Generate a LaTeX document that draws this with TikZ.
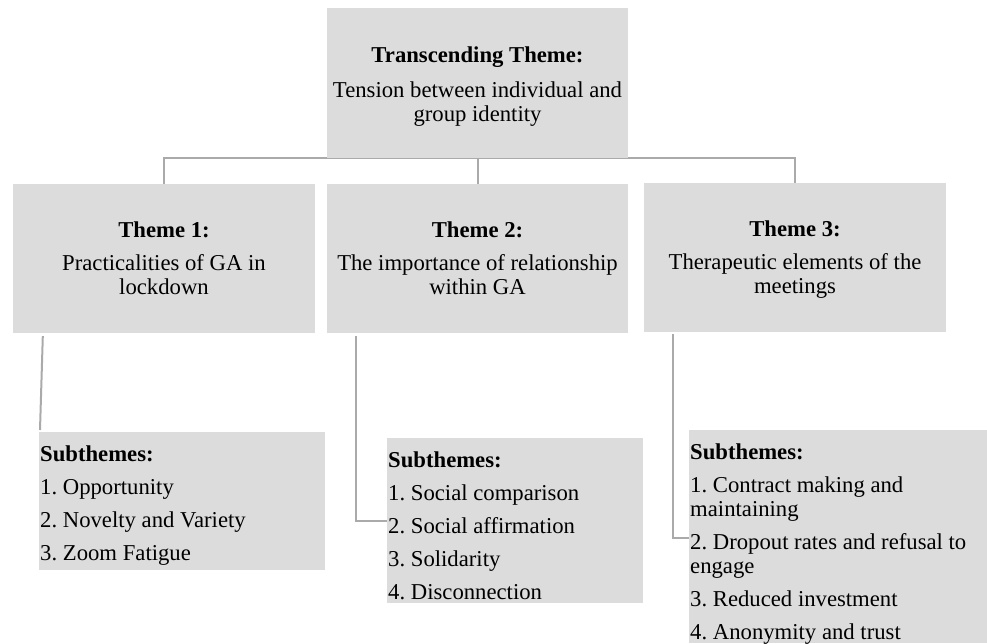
\documentclass[tikz,border=0pt]{standalone}
\usepackage{fontspec}
\setmainfont{Liberation Serif}
\usetikzlibrary{backgrounds}
\definecolor{boxgray}{RGB}{220,220,220}
\definecolor{linegray}{RGB}{170,170,170}
\frenchspacing
\newcommand{\sublist}[3]{\parbox[t][#2][t]{#1}{\raggedright\setlength{\parskip}{9pt}#3}}
\tikzset{
  txt/.style={font=\fontsize{22.7}{24}\selectfont},
  theme/.style={txt, fill=boxgray, minimum width=302pt, minimum height=149pt, inner sep=0pt, align=center},
  subtheme/.style={txt, fill=boxgray, anchor=north west, inner xsep=1pt, inner ysep=13.5pt},
  link/.style={draw=linegray, line width=2pt}
}
\begin{document}
\begin{tikzpicture}[x=1pt, y=-1pt]
\useasboundingbox (0,0) rectangle (987,643);
% themes
\node[theme, minimum width=301pt, minimum height=150pt] (top) at (477.5,83) {\rule{0pt}{23pt}\textbf{Transcending Theme:}\\[11pt]Tension between individual and\\group identity};
\node[theme] (theme1) at (164,258.5) {\textbf{Theme 1:}\\[9pt]Practicalities of GA in\\lockdown};
\node[theme, minimum width=301pt] (theme2) at (477.5,258.5) {\textbf{Theme 2:}\\[9pt]The importance of relationship\\within GA};
\node[theme] (theme3) at (795,257.5) {\rule{0pt}{19pt}\textbf{Theme 3:}\\[9pt]Therapeutic elements of the\\meetings};
% subthemes
\node[subtheme] (sub1) at (39,432) {\sublist{284pt}{111pt}{\textbf{Subthemes:}\par 1. Opportunity\par 2. Novelty and Variety\par 3. Zoom Fatigue}};
\node[subtheme] (sub2) at (387,438) {\sublist{254pt}{138pt}{\textbf{Subthemes:}\par 1. Social comparison\par 2. Social affirmation\par 3. Solidarity\par 4. Disconnection}};
\node[subtheme] (sub3) at (689,430) {\sublist{296pt}{186pt}{\textbf{Subthemes:}\par 1. Contract making and\newline maintaining\par 2. Dropout rates and refusal to\newline engage\par 3. Reduced investment\par 4. Anonymity and trust}};
% links
\begin{scope}[on background layer]
\draw[link] (theme1.north) |- (top.south) -| (theme3.north);
\draw[link] (top.south) -- (theme2.north);
\end{scope}
\draw[link] ([xshift=30pt,yshift=-3pt]theme1.south west) -- ([xshift=1pt,yshift=2pt]sub1.north west);
\draw[link] ([xshift=29pt,yshift=-3pt]theme2.south west) |- ([yshift=-83pt]sub2.north west);
\draw[link] ([xshift=29pt,yshift=-2pt]theme3.south west) |- ([yshift=-108pt]sub3.north west);
\end{tikzpicture}
\end{document}
